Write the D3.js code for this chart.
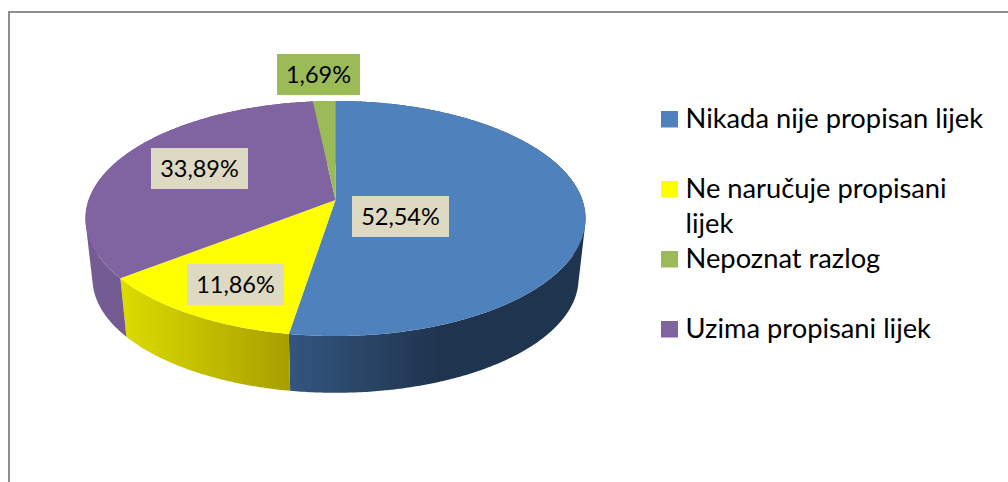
<!DOCTYPE html>
<html>
<head>
<meta charset="utf-8">
<script src="https://cdn.jsdelivr.net/npm/d3@7"></script>
<style>
  html, body { margin: 0; padding: 0; background: #fff; }
  svg { display: block; }
  text { font-family: Lato, "Open Sans", sans-serif; fill: #000; }
</style>
</head>
<body>
<svg id="j-svg" width="1008" height="482" viewBox="0 0 1008 482"></svg>
<script>
// legend order
const categories = ['Nikada nije propisan lijek', 'Ne naručuje propisani lijek', 'Nepoznat razlog', 'Uzima propisani lijek'];
const values = [52.54, 11.86, 1.69, 33.89];
// the pie runs clockwise in a different order than the legend
const sliceOrder = [0, 1, 3, 2];

const topColors = ['#4f81bd', '#ffff00', '#9bbb59', '#8064a2'];
const sideFrom = ['#33567f', '#dcdc00', '#6a8040', '#755c94'];
const sideTo = ['#1f344e', '#a89f00', '#6a8040', '#67507f'];
const labelFills = ['#ddd9c3', '#ddd9c3', '#9bbb59', '#ddd9c3'];
// hand placed label boxes: x, y of top left corner
const labelPos = [[352, 196], [187, 264], [277, 54], [151, 148]];
const legendRows = [111, 181, 251, 321];

const svg = d3.select('#j-svg');
const fmt = d3.formatLocale({ decimal: ',', thousands: '.', grouping: [3], currency: ['', ''] }).format('.2f');

// frame, only top and left are in the crop
svg.append('path')
  .attr('d', d3.line()([[1008, 12], [9, 12], [9, 482]]))
  .attr('fill', 'none').attr('stroke', '#8e8e8e').attr('stroke-width', 2);

// perspective projection of the pie's circle
const cx = 335.5;
const tilt = 0.1574;
function project(t, rx, ry, y0) {
  const u = Math.sin(t), v = Math.cos(t), w = 1 + tilt * v;
  return [cx + rx * u / w, y0 - ry * v / w];
}
const topRim = t => project(t, 246.9, 114.6, 200);
const bottomRim = t => project(t, 240, 111.4, 260.6);

const slices = d3.pie().value(i => values[i]).sort(null)(sliceOrder);
const line = d3.line();

function rimAngles(d) {
  const n = Math.ceil((d.endAngle - d.startAngle) / 0.01);
  return d3.range(n + 1).map(k => d.startAngle + (d.endAngle - d.startAngle) * k / n);
}

const defs = svg.append('defs');
slices.forEach(d => {
  const i = d.data;
  const xs = rimAngles(d).map(t => topRim(t)[0]);
  const grad = defs.append('linearGradient')
    .attr('id', 'side-' + i)
    .attr('gradientUnits', 'userSpaceOnUse')
    .attr('x1', i === 0 ? topRim(d.endAngle)[0] : d3.min(xs)).attr('x2', i === 0 ? 440 : d3.max(xs))
    .attr('y1', 0).attr('y2', 0);
  grad.append('stop').attr('offset', 0).attr('stop-color', sideFrom[i]);
  grad.append('stop').attr('offset', 1).attr('stop-color', sideTo[i]);
});

// side of a slice as a strip of quads, all wound the same way so the
// silhouette at the far left and right stays a straight sweep
function sidePath(d) {
  const ts = rimAngles(d);
  return d3.pairs(ts).map(p => {
    const quad = [topRim(p[0]), topRim(p[1]), bottomRim(p[1]), bottomRim(p[0])];
    if (d3.polygonArea(quad) < 0) quad.reverse();
    return line(quad) + 'Z';
  }).join('');
}

// sides first, the top face hides whatever faces backwards
svg.append('g').selectAll('path').data(slices).enter().append('path')
  .attr('d', sidePath)
  .attr('fill', d => 'url(#side-' + d.data + ')');

svg.append('g').selectAll('path').data(slices).enter().append('path')
  .attr('d', d => line([[cx, 200]].concat(rimAngles(d).map(topRim))) + 'Z')
  .attr('fill', d => topColors[d.data]);

// data labels
const labels = svg.append('g').selectAll('g').data(d3.range(values.length)).enter().append('g')
  .attr('transform', i => 'translate(' + labelPos[i][0] + ',' + labelPos[i][1] + ')');
labels.append('rect')
  .attr('width', i => i === 2 ? 83 : 97)
  .attr('height', 41)
  .attr('fill', i => labelFills[i]);
labels.append('text')
  .attr('x', i => i === 2 ? 41.5 : 48.5)
  .attr('y', 29)
  .attr('text-anchor', 'middle')
  .attr('font-size', 23.5)
  .text(i => fmt(values[i]) + '%');

// legend
const legend = svg.append('g').selectAll('g').data(d3.range(categories.length)).enter().append('g')
  .attr('transform', i => 'translate(661,' + legendRows[i] + ')');
legend.append('rect')
  .attr('width', 17).attr('height', 16.5)
  .attr('fill', i => topColors[i]);
legend.append('text')
  .attr('font-size', 27.3)
  .attr('y', 17)
  .selectAll('tspan')
  .data(i => i === 1 ? ['Ne naručuje propisani', 'lijek'] : [categories[i]])
  .enter().append('tspan')
  .attr('x', 24.5)
  .attr('dy', (d, k) => k ? 35 : 0)
  .text(d => d);
</script>
</body>
</html>
